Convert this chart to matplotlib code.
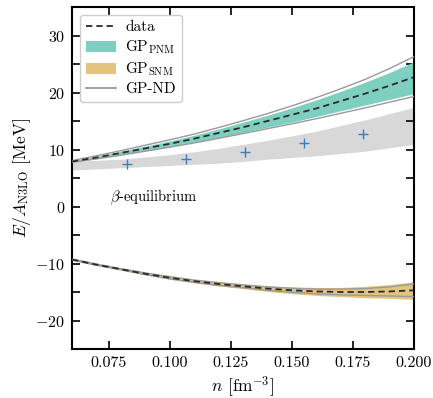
import numpy as np
import matplotlib
matplotlib.use("Agg")
import matplotlib.pyplot as plt
from matplotlib.lines import Line2D
from matplotlib.patches import Patch
from matplotlib.ticker import MultipleLocator

plt.rcParams['font.family'] = 'serif'
plt.rcParams['font.serif'] = ['cmr10']
plt.rcParams['mathtext.fontset'] = 'cm'
plt.rcParams['axes.formatter.use_mathtext'] = True
plt.rcParams['axes.unicode_minus'] = True

# density grid [fm^-3]
n = [0.06, 0.07, 0.08, 0.09, 0.10, 0.11, 0.12, 0.13, 0.14, 0.15, 0.16, 0.17, 0.18, 0.19, 0.20]

# pure neutron matter
pnm_mean = [7.9, 8.6, 9.4, 10.2, 11.0, 11.9, 12.9, 13.9, 15.0, 16.1, 17.2, 18.5, 19.8, 21.2, 22.7]
pnm_hi = [8.0, 8.8, 9.7, 10.6, 11.5, 12.5, 13.6, 14.8, 16.0, 17.3, 18.7, 20.2, 21.8, 23.5, 25.4]
pnm_lo = [7.8, 8.4, 9.1, 9.8, 10.5, 11.3, 12.1, 13.0, 13.9, 14.8, 15.8, 16.8, 17.8, 18.8, 19.8]
pnm_nd_hi = [8.05, 8.9, 9.8, 10.75, 11.7, 12.7, 13.85, 15.05, 16.3, 17.65, 19.1, 20.65, 22.3, 24.2, 26.3]
pnm_nd_lo = [7.75, 8.35, 9.0, 9.7, 10.4, 11.15, 11.95, 12.8, 13.65, 14.5, 15.4, 16.35, 17.3, 18.3, 19.3]

# symmetric nuclear matter
snm_mean = [-9.3, -10.2, -11.0, -11.8, -12.5, -13.1, -13.6, -14.0, -14.4, -14.7, -14.9, -15.0, -15.0, -14.9, -14.7]
snm_hi = [-9.15, -10.05, -10.85, -11.6, -12.25, -12.8, -13.25, -13.6, -13.9, -14.1, -14.2, -14.2, -14.0, -13.7, -13.2]
snm_lo = [-9.45, -10.35, -11.15, -12.0, -12.75, -13.4, -13.95, -14.4, -14.9, -15.3, -15.6, -15.8, -16.0, -16.1, -16.3]
snm_nd_hi = [-9.2, -10.1, -10.9, -11.65, -12.3, -12.9, -13.35, -13.75, -14.1, -14.35, -14.5, -14.5, -14.4, -14.1, -13.6]
snm_nd_lo = [-9.4, -10.3, -11.1, -11.95, -12.7, -13.3, -13.85, -14.25, -14.7, -15.05, -15.3, -15.5, -15.6, -15.7, -15.8]

# beta equilibrium
beta_hi = [7.9, 8.1, 8.3, 8.7, 9.1, 9.6, 10.2, 10.9, 11.6, 12.4, 13.2, 14.2, 15.2, 16.3, 17.4]
beta_lo = [6.4, 6.6, 6.8, 7.0, 7.2, 7.4, 7.6, 7.9, 8.3, 8.6, 8.9, 9.3, 9.7, 10.3, 10.9]
beta_n = [0.0825, 0.1067, 0.1307, 0.1550, 0.1790]
beta_E = [7.4, 8.4, 9.6, 11.1, 12.75]

x_ticks = [0.075, 0.100, 0.125, 0.150, 0.175, 0.200]
y_ticks = [-20, -10, 0, 10, 20, 30]

teal = '#7fcfc1'
tan = '#e2c47f'
ndgray = '#9a9a9a'

fig = plt.figure(figsize=(4.33, 3.98), dpi=100)
ax = fig.add_axes([0.1663, 0.1231, 0.7897, 0.8593])

ax.fill_between(n, beta_lo, beta_hi, color='#d8d8d8', lw=0, zorder=1)
ax.plot(beta_n, beta_E, ls='none', marker='+', ms=7, mew=1.0, color='#3a7fbf', zorder=5)

ax.fill_between(n, pnm_lo, pnm_hi, color=teal, lw=0, zorder=2)
ax.plot(n, pnm_nd_hi, color=ndgray, lw=1.0, zorder=3)
ax.plot(n, pnm_nd_lo, color=ndgray, lw=1.0, zorder=3)
ax.plot(n, pnm_mean, color='#2a2a2a', ls=(0, (3.5, 2.2)), lw=1.3, zorder=4)

ax.fill_between(n, snm_lo, snm_hi, color=tan, lw=0, zorder=2)
ax.plot(n, snm_nd_hi, color=ndgray, lw=1.0, zorder=3)
ax.plot(n, snm_nd_lo, color=ndgray, lw=1.0, zorder=3)
ax.plot(n, snm_mean, color='#2a2a2a', ls=(0, (3.5, 2.2)), lw=1.3, zorder=4)

ax.text(0.0933, 1.6, r'$\beta$-equilibrium', fontsize=10.5, ha='center', va='center')

ax.set_xlim(0.06, 0.20)
ax.set_ylim(-25, 35)
ax.set_xticks(x_ticks)
ax.set_xticklabels(['%.3f' % v for v in x_ticks])
ax.set_yticks(y_ticks)
ax.yaxis.set_minor_locator(MultipleLocator(5))
ax.tick_params(which='both', direction='in', top=True, right=True, labelsize=11.5,
               width=1.2, pad=5)
ax.tick_params(which='major', length=5.5)
ax.tick_params(which='minor', length=5.5)
for s in ax.spines.values():
    s.set_linewidth(1.5)

ax.set_xlabel(r'$n$ [fm$^{-3}$]', fontsize=12.5, labelpad=3)
ax.set_ylabel(r'$E/A_{\mathrm{N3LO}}$ [MeV]', fontsize=12.5, labelpad=2)

handles = [Line2D([], [], color='#2a2a2a', ls=(0, (3.5, 2.2)), lw=1.3),
           Patch(facecolor=teal, edgecolor='none'),
           Patch(facecolor=tan, edgecolor='none'),
           Line2D([], [], color=ndgray, lw=1.3)]
labels = ['data', r'GP$_{\mathrm{PNM}}$', r'GP$_{\mathrm{SNM}}$', 'GP-ND']
leg = ax.legend(handles, labels, loc='upper left', fontsize=11, frameon=True,
                fancybox=True, edgecolor='#cccccc', framealpha=1.0,
                borderaxespad=0.5, handlelength=2.0, handletextpad=0.6,
                labelspacing=0.28, borderpad=0.4)

fig.savefig('out.png', dpi=100)
